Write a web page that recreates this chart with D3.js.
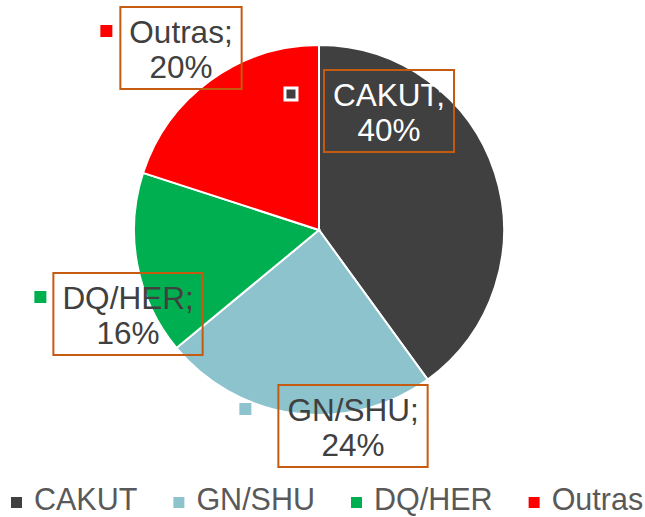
<!DOCTYPE html>
<html>
<head>
<meta charset="utf-8">
<script src="https://cdn.jsdelivr.net/npm/d3@7"></script>
<style>
  body { margin: 0; background: #fff; }
  text { font-family: "Liberation Sans", Arial, sans-serif; }
</style>
</head>
<body>
<div id="chart"></div>
<script>
const categories = ['CAKUT', 'GN/SHU', 'DQ/HER', 'Outras'];
const values = [40, 24, 16, 20];
const colors = ['#404040', '#8CC3CD', '#00B050', '#FF0000'];

// manual label placement (box centre relative to pie centre), as in the source
const labelOffsets = [[70, -119], [34, 196], [-191, 84], [-138, -182]];
const markerGaps = [-33, -33, -13, -14];

const width = 645;
const height = 517;
const cx = 319;
const cy = 230;
const radius = 185;

const svg = d3.select('#chart').append('svg')
  .attr('width', width)
  .attr('height', height);

const pie = d3.pie().sort(null).value(d => d);
const arc = d3.arc().innerRadius(0).outerRadius(radius);
const arcs = pie(values);

const groupPie = svg.append('g')
  .attr('transform', `translate(${cx}, ${cy})`);

groupPie.selectAll('path')
  .data(arcs)
  .enter()
  .append('path')
  .attr('d', arc)
  .attr('fill', (d, i) => colors[i])
  .attr('stroke', '#fff')
  .attr('stroke-width', 2);

// data labels
const labels = groupPie.selectAll('.label')
  .data(arcs)
  .enter()
  .append('g')
  .attr('class', 'label')
  .attr('transform', (d, i) => `translate(${labelOffsets[i][0]}, ${labelOffsets[i][1]})`);

labels.each(function (d, i) {
  const g = d3.select(this);
  const fill = i === 0 ? '#fff' : '#404040';
  const t = g.append('text')
    .attr('text-anchor', 'middle')
    .attr('font-size', 31.5)
    .attr('fill', fill);
  t.append('tspan').attr('x', 0).attr('y', -5).text(categories[i] + ';');
  t.append('tspan').attr('x', 0).attr('y', 30).text(d.data + '%');

  const w = t.node().getBBox().width + 18;
  const h = 82;
  g.append('rect')
    .attr('x', -w / 2)
    .attr('y', -h / 2)
    .attr('width', w)
    .attr('height', h)
    .attr('fill', 'none')
    .attr('stroke', '#C55A11')
    .attr('stroke-width', 2);

  const mx = -w / 2 + markerGaps[i];
  g.append('rect')
    .attr('x', mx - 6)
    .attr('y', -5 - 12 - 6)
    .attr('width', 12)
    .attr('height', 12)
    .attr('fill', colors[i])
    .attr('stroke', i === 0 ? '#fff' : 'none')
    .attr('stroke-width', 3);
});

// legend
const legend = svg.append('g').attr('class', 'legend');
let x = 11;
categories.forEach((c, i) => {
  legend.append('rect')
    .attr('x', x)
    .attr('y', 497)
    .attr('width', 11)
    .attr('height', 11)
    .attr('fill', colors[i]);
  const t = legend.append('text')
    .attr('x', x + 23)
    .attr('y', 510)
    .attr('font-size', 30.5)
    .attr('fill', '#595959')
    .text(c);
  x += 23 + t.node().getComputedTextLength() + 36;
});
</script>
</body>
</html>
